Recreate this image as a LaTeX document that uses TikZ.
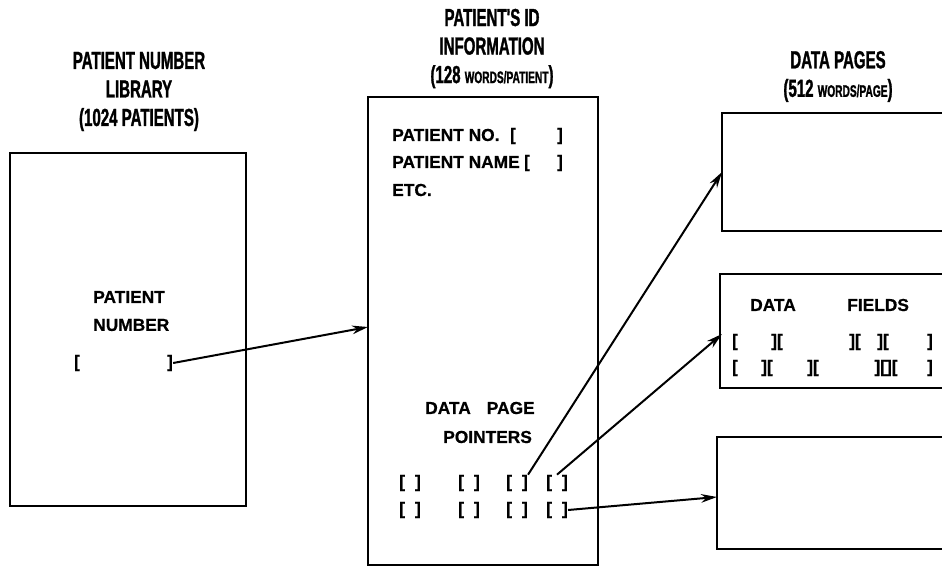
\documentclass[tikz,border=0pt]{standalone}
\usepackage{fontspec}
\setmainfont{Liberation Sans}[FakeBold=0.6]
\newfontfamily\headfont{Liberation Sans}[FakeStretch=0.61,FakeBold=1.2]
\usetikzlibrary{arrows.meta}

\newcommand\smc[1]{{\fontsize{12.5}{14}\selectfont #1}}
\newcommand\pair{[\hspace{7.5pt}]}

\tikzset{
  head/.style={font=\headfont\bfseries\fontsize{18.5}{21.4}\selectfont, align=center, inner sep=0pt},
  body/.style={font=\bfseries\fontsize{13}{15}\selectfont, inner sep=0pt},
  frame/.style={line width=2.1pt},
  ptr/.style={line width=1.5pt, -{Stealth[length=12pt,width=6.5pt]}},
}

\begin{document}
\begin{tikzpicture}[x=0.75pt,y=-0.75pt]
\useasboundingbox (0,0) rectangle (942,571);
\clip (0,0) rectangle (942,571);

% the four frames, the data pages run off the right edge
\draw[frame] (10,153) rectangle (246,506);
\draw[frame] (368,97) rectangle (598,565);
\draw[frame] (722,113) rectangle (960,231);
\draw[frame] (720,274) rectangle (960,388);
\draw[frame] (717,437) rectangle (960,549);

\coordinate (Min) at (368,327);
\coordinate (T1) at (722,172);
\coordinate (T2) at (722,334);
\coordinate (T3) at (717,497);

% titles
\node[head] (libtitle) at (139,91.5) {PATIENT NUMBER\\LIBRARY\\(1024 PATIENTS)};
\node[head] (idtitle) at (492,48.5) {PATIENT'S ID\\INFORMATION\\(128 \smc{WORDS/PATIENT})};
\node[head] (pgtitle) at (838,76.5) {DATA PAGES\\(512 \smc{WORDS/PAGE})};

% library
\node[body,anchor=west] (pat) at (93,297) {PATIENT};
\node[body,anchor=west] (num) at (93,325) {NUMBER};
\node[body] (lb1) at (77,363) {[};
\node[body] (lb2) at (170,363) {]};

% id record
\node[body,anchor=west] (pno) at (392,135) {PATIENT NO.};
\node[body] (nob1) at (513,136) {[};
\node[body] (nob2) at (560,136) {]};
\node[body,anchor=west] (pname) at (392,162) {PATIENT NAME};
\node[body] (nab1) at (527,163) {[};
\node[body] (nab2) at (560,163) {]};
\node[body,anchor=west] (etc) at (392,190) {ETC.};
\node[body,anchor=west] (dpg) at (425,408) {DATA\hspace{12pt}PAGE};
\node[body,anchor=west] (ptrs) at (443,437) {POINTERS};
\foreach \i/\x in {1/410,2/469,3/517,4/557}{
  \node[body] (p1\i) at (\x,483) {\pair};
  \node[body] (p2\i) at (\x,510) {\pair};
}

% data fields
\node[body,anchor=west] (dat) at (750,305) {DATA};
\node[body,anchor=west] (fld) at (847,305) {FIELDS};
\foreach \x/\t in {735/[,777/{][},855/{][},883/{][},930/]}
  \node[body] (fa\x) at (\x,342) {\t};
\foreach \x/\t in {735/[,767/{][},813/{][},886/{][][},930/]}
  \node[body] (fb\x) at (\x,368) {\t};

% pointers
\draw[ptr] (lb2.east) -- (Min);
\draw[ptr] (p13.north east) -- (T1);
\draw[ptr] (p14.north) -- (T2);
\draw[ptr] (p24.east) -- (T3);
\end{tikzpicture}
\end{document}
